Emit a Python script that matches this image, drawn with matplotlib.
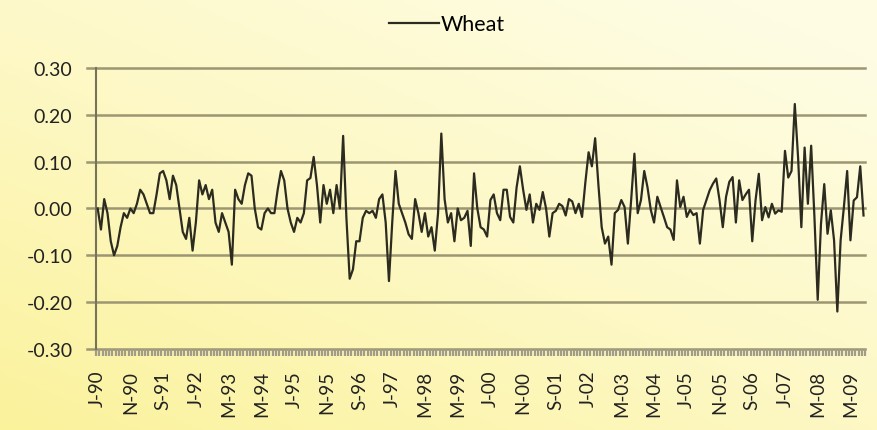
import numpy as np
import matplotlib.pyplot as plt
from matplotlib.colors import LinearSegmentedColormap

# monthly wheat returns, Jan 1990 - Jul 2009
wheat = [
    0.00, -0.045, 0.02, -0.01, -0.07, -0.10, -0.08, -0.04, -0.01, -0.02,
    0.00, -0.01, 0.01, 0.04, 0.03, 0.01, -0.01, -0.01, 0.03, 0.075,
    0.08, 0.06, 0.02, 0.07, 0.05, 0.00, -0.05, -0.065, -0.02, -0.09,
    -0.03, 0.06, 0.03, 0.05, 0.02, 0.04, -0.03, -0.05, -0.01, -0.03,
    -0.05, -0.12, 0.04, 0.02, 0.01, 0.05, 0.075, 0.07, 0.00, -0.04,
    -0.045, -0.01, 0.00, -0.01, -0.01, 0.04, 0.08, 0.06, 0.00, -0.03,
    -0.05, -0.02, -0.03, -0.01, 0.06, 0.065, 0.11, 0.05, -0.03, 0.05,
    0.01, 0.04, -0.01, 0.05, 0.00, 0.155, -0.02, -0.15, -0.13, -0.07,
    -0.07, -0.02, -0.005, -0.01, -0.005, -0.02, 0.02, 0.03, -0.03, -0.155,
    -0.03, 0.08, 0.01, -0.01, -0.03, -0.055, -0.065, 0.02, -0.01, -0.05,
    -0.01, -0.06, -0.04, -0.09, -0.01, 0.16, 0.02, -0.03, -0.01, -0.07,
    0.00, -0.025, -0.02, -0.005, -0.08, 0.075, 0.00, -0.04, -0.045, -0.06,
    0.018, 0.03, -0.01, -0.025, 0.04, 0.04, -0.018, -0.03, 0.045, 0.09,
    0.04, -0.003, 0.03, -0.03, 0.01, -0.003, 0.035, 0.00, -0.06, -0.01,
    -0.005, 0.01, 0.005, -0.015, 0.02, 0.015, -0.01, 0.01, -0.018, 0.055,
    0.12, 0.09, 0.15, 0.05, -0.04, -0.075, -0.06, -0.12, -0.01, -0.003,
    0.018, 0.003, -0.075, 0.018, 0.117, -0.01, 0.018, 0.08, 0.045, -0.003,
    -0.03, 0.025, 0.003, -0.018, -0.04, -0.045, -0.067, 0.06, 0.003, 0.025,
    -0.018, -0.003, -0.014, -0.01, -0.075, -0.003, 0.018, 0.039, 0.053, 0.064,
    0.018, -0.04, 0.025, 0.057, 0.067, -0.03, 0.06, 0.018, 0.03, 0.04,
    -0.07, 0.017, 0.074, -0.025, 0.003, -0.019, 0.01, -0.011, -0.004, -0.007,
    0.123, 0.066, 0.08, 0.223, 0.109, -0.04, 0.13, 0.01, 0.134, -0.018,
    -0.195, -0.033, 0.052, -0.054, -0.004, -0.068, -0.22, -0.068, 0.003, 0.08,
    -0.068, 0.017, 0.024, 0.09, -0.015,
]

tick_labels = ["J-90", "N-90", "S-91", "J-92", "M-93", "M-94", "J-95", "N-95",
               "S-96", "J-97", "M-98", "M-99", "J-00", "N-00", "S-01", "J-02",
               "M-03", "M-04", "J-05", "N-05", "S-06", "J-07", "M-08", "M-09"]
y_ticks = [-0.30, -0.20, -0.10, 0.00, 0.10, 0.20, 0.30]

plt.rcParams['font.family'] = ['Lato', 'DejaVu Sans']

fig = plt.figure(figsize=(8.77, 4.31), dpi=100)

# yellow wash behind everything, paler toward the top right
bg = fig.add_axes([0, 0, 1, 1], zorder=-10)
gx, gy = np.meshgrid(np.linspace(0, 1, 200), np.linspace(0, 1, 200))
shade = np.clip(0.6 * gx + 0.7 * (1 - gy), 0, 1.2) / 1.2
cmap = LinearSegmentedColormap.from_list("wash", ["#fbf29c", "#fdf8c4", "#fefde4"])
bg.imshow(shade, cmap=cmap, extent=[0, 1, 0, 1], aspect="auto", origin="upper")
bg.axis("off")

ax = fig.add_axes([0.1095, 0.188, 0.877, 0.652])
ax.set_facecolor("none")

x = np.arange(len(wheat))
ax.plot(x, wheat, color="#2c2b20", lw=1.6, label="Wheat", zorder=3)

ax.set_xlim(-0.5, len(wheat) - 0.5)
ax.set_ylim(-0.30, 0.30)
ax.set_yticks(y_ticks)
ax.set_yticklabels([f"{v:.2f}" for v in y_ticks], fontsize=14, color="#222")
ax.tick_params(axis="y", length=0, pad=17)

# horizontal gridlines, poking out a little left of the axis
for v in y_ticks:
    ax.axhline(v, xmin=-0.012, xmax=1, color="#9c9672", lw=1.8,
               clip_on=False, zorder=1)

# category labels every 10 months, tick marks at every month boundary
ax.set_xticks(np.arange(0, len(wheat), 10))
ax.set_xticklabels(tick_labels, rotation=90, fontsize=13.5, color="#222")
ax.tick_params(axis="x", which="major", length=0, pad=15)
ax.set_xticks(np.arange(-0.5, len(wheat), 1), minor=True)
ax.tick_params(axis="x", which="minor", length=5, width=1.6, color="#a09c88")

for side in ["top", "right", "bottom"]:
    ax.spines[side].set_visible(False)
ax.spines["left"].set_color("#77725a")
ax.spines["left"].set_linewidth(1.5)
ax.spines["left"].set_zorder(2)

fig.legend(loc="upper center", bbox_to_anchor=(0.51, 1.01), frameon=False,
           fontsize=15.5, handlelength=2.3, handletextpad=0.1)

fig.savefig("out.png", dpi=100)
